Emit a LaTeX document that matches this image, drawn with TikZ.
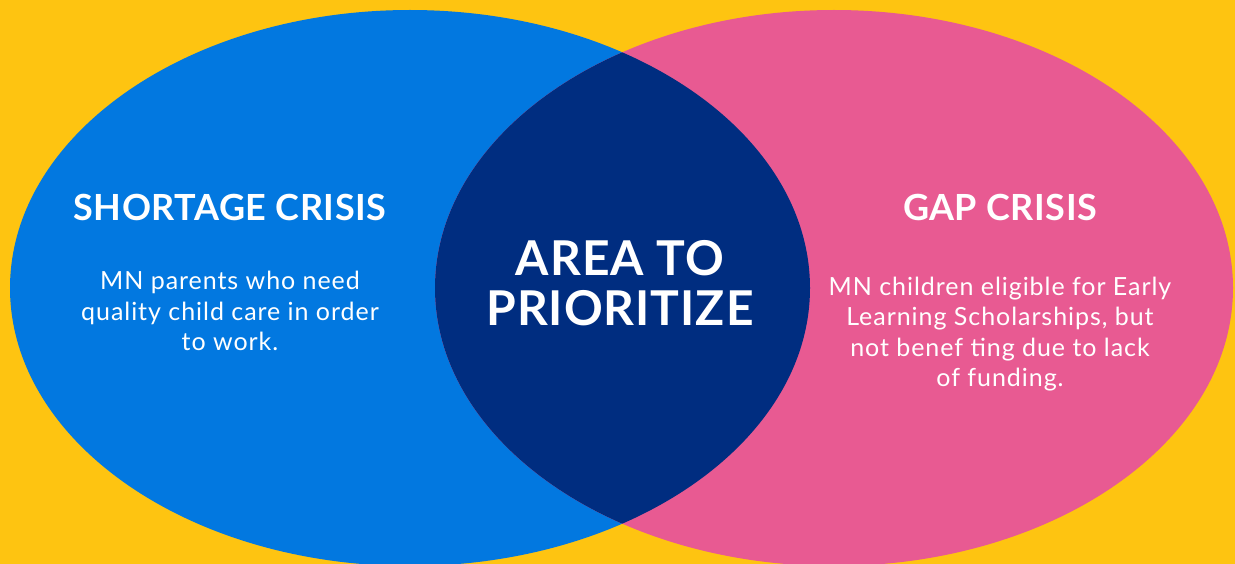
\documentclass[tikz,border=0pt]{standalone}
\usepackage{fontspec}
\setmainfont{Lato}
\newfontfamily\bodyfont[LetterSpace=3.8]{Lato}
\newfontfamily\titlefont[LetterSpace=1.5]{Lato}
\newfontfamily\centerfont[LetterSpace=2.0]{Lato}
\definecolor{bgyellow}{RGB}{254,196,17}
\definecolor{leftblue}{RGB}{2,120,224}
\definecolor{rightpink}{RGB}{232,90,146}
\definecolor{navy}{RGB}{0,45,128}
\tikzset{
  title/.style={text=white, font=\titlefont\bfseries\fontsize{36}{40}\selectfont, inner sep=0pt, align=center},
  body/.style={text=white, font=\bodyfont\fontsize{25}{30.5}\selectfont, inner sep=0pt, align=center},
  centertext/.style={text=white, font=\centerfont\bfseries\fontsize{48}{50}\selectfont, inner sep=0pt, align=center}
}
\begin{document}
\begin{tikzpicture}[x=1pt,y=-1pt]
\useasboundingbox (0,0) rectangle (1235,564);
\fill[bgyellow] (0,0) rectangle (1235,564);
\begin{scope}
  \clip (0,0) rectangle (1235,564);
  \fill[leftblue] (410,288) ellipse [x radius=400, y radius=278];
  \fill[rightpink] (834,288) ellipse [x radius=399, y radius=278];
  \begin{scope}
    \clip (410,288) ellipse [x radius=400, y radius=278];
    \fill[navy] (834,288) ellipse [x radius=399, y radius=278];
  \end{scope}
\end{scope}
\node[title] (lt) at (230,207.5) {SHORTAGE CRISIS};
\node[title] (rt) at (1000,207.5) {GAP CRISIS};
\node[body] (lb) at (230,311) {MN parents who need\\quality child care in order\\to work.};
\node[body] (rb) at (1000,334) {MN children eligible for Early\\Learning Scholarships, but\\not benef ting due to lack\\of funding.};
\node[centertext] (ct) at (620,283.5) {AREA TO\\PRIORITIZE};
\end{tikzpicture}
\end{document}
